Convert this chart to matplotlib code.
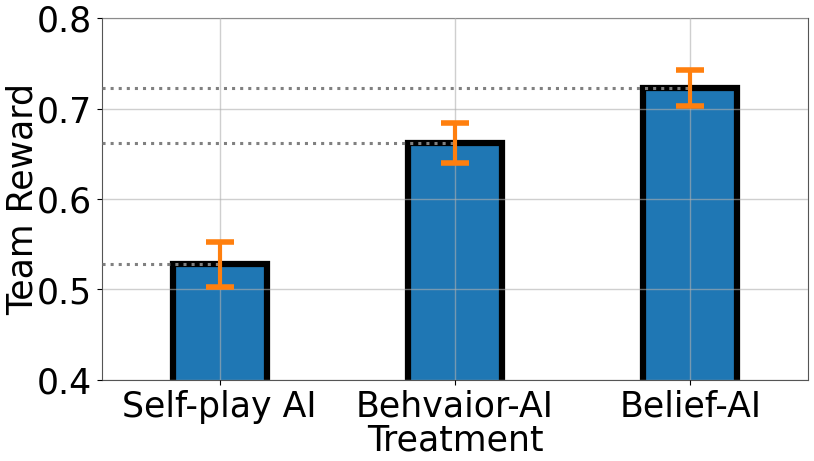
import matplotlib
matplotlib.use("Agg")
import matplotlib.pyplot as plt
import numpy as np

categories = ["Self-play AI", "Behvaior-AI", "Belief-AI"]
values = [0.528, 0.662, 0.723]
errors = [0.025, 0.022, 0.020]

fig = plt.figure(figsize=(8.14, 4.61), dpi=100)
ax = fig.add_axes([102/814, 1-380/461, (808-102)/814, (380-18)/461])
x = np.arange(len(categories))
ax.bar(x, values, width=0.4, color="#1f77b4", edgecolor="black", linewidth=4.5, zorder=1)
ax.errorbar(x, values, yerr=errors, fmt="none", ecolor="#ff7f0e", elinewidth=3,
            capsize=10, capthick=4, zorder=4)
for xi, v in zip(x, values):
    ax.plot([-0.5, xi], [v, v], linestyle=":", color="gray", linewidth=2.2, zorder=3)
ax.set_xlim(-0.5, 2.5)
ax.set_ylim(0.4, 0.8)
ax.set_yticks([0.4, 0.5, 0.6, 0.7, 0.8])
ax.set_xticks(x)
ax.set_xticklabels(categories)
ax.grid(True, color="#b0b0b0", alpha=0.6, linewidth=1, zorder=2)
ax.set_axisbelow(False)
ax.tick_params(labelsize=25)
ax.set_ylabel("Team Reward", fontsize=25)
ax.yaxis.set_label_coords(-0.089, 0.5)
ax.set_xlabel("Treatment", fontsize=25)
ax.xaxis.set_label_coords(0.5, -0.12)
for s in ax.spines.values():
    s.set_color("#555555")
fig.savefig("out.png", dpi=100)
